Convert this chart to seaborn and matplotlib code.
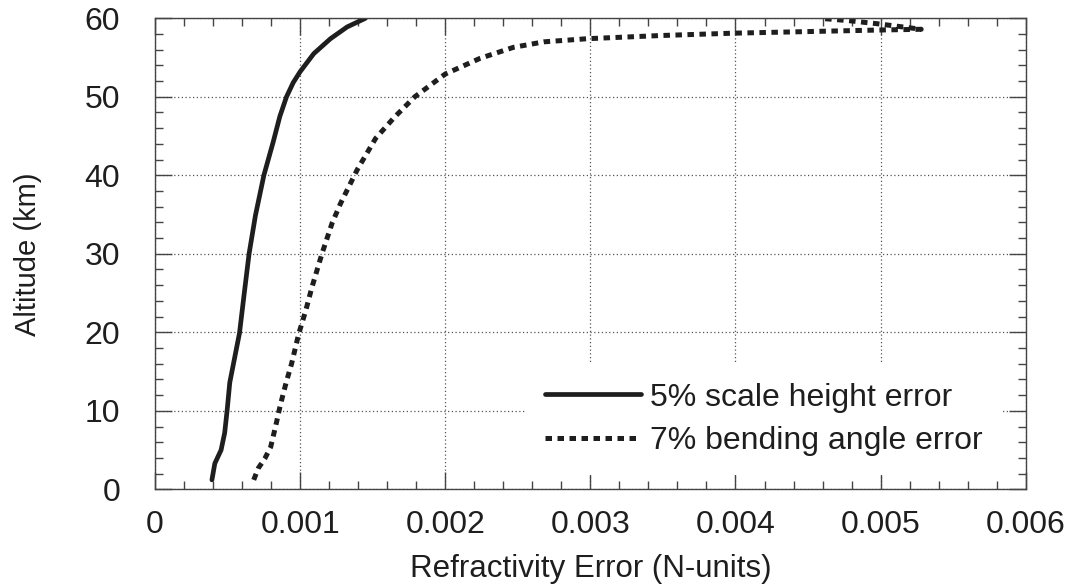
import numpy as np
import pandas as pd
import matplotlib
matplotlib.use("Agg")
import matplotlib.pyplot as plt
import seaborn as sns
from matplotlib.ticker import MultipleLocator

# Perfis (erro de refratividade x altitude)
alt_escala = [1.2, 3.3, 5.0, 7.2, 10.1, 13.6, 19.9, 25.0, 30.0, 34.9, 40.0,
              44.3, 47.5, 50.0, 51.8, 53.2, 55.5, 57.4, 58.9, 60.0]
err_escala = [0.000392, 0.000412, 0.000455, 0.000480, 0.000497, 0.000515,
              0.000582, 0.000615, 0.000648, 0.000692, 0.000750, 0.000815,
              0.000860, 0.000906, 0.000952, 0.001000, 0.001094, 0.001209,
              0.001324, 0.001450]

alt_flexao = [1.2, 2.7, 3.9, 5.4, 8.2, 10.7, 13.5, 16.0, 19.8, 22.8, 25.6,
              30.0, 33.9, 36.4, 40.7, 44.7, 47.4, 50.0, 52.9, 54.9, 56.3,
              57.0, 57.4, 57.8, 58.1, 58.3, 58.5, 58.6, 59.3, 59.7, 60.0]
err_flexao = [0.000680, 0.000712, 0.000756, 0.000797, 0.000833, 0.000863,
              0.000902, 0.000941, 0.000990, 0.001039, 0.001079, 0.001150,
              0.001220, 0.001278, 0.001393, 0.001520, 0.001650, 0.001790,
              0.002000, 0.002240, 0.002470, 0.002680, 0.002980, 0.003480,
              0.003980, 0.004480, 0.004980, 0.005280, 0.004980, 0.004780,
              0.004580]

rotulos = ["5% scale height error", "7% bending angle error"]
ticks_x = [0, 0.001, 0.002, 0.003, 0.004, 0.005, 0.006]
rotulos_x = ["0", "0.001", "0.002", "0.003", "0.004", "0.005", "0.006"]

sns.set_theme(style="ticks")
plt.rcParams["font.family"] = ["Liberation Sans", "DejaVu Sans"]
cor = "#1e1e1e"

fig, ax = plt.subplots(figsize=(10.7, 5.86), dpi=100)
fig.subplots_adjust(left=0.1449, right=0.9586, top=0.9688, bottom=0.165)

sns.lineplot(x=err_escala, y=alt_escala, sort=False, estimator=None, ax=ax,
             color=cor, lw=3.4, label=rotulos[0])
sns.lineplot(x=err_flexao, y=alt_flexao, sort=False, estimator=None, ax=ax,
             color=cor, lw=3.6, linestyle=(0, (1.3, 1.1)), label=rotulos[1])

ax.set_xlim(0, 0.006)
ax.set_ylim(0, 60)
ax.xaxis.set_minor_locator(MultipleLocator(0.0002))
ax.yaxis.set_major_locator(MultipleLocator(10))
ax.yaxis.set_minor_locator(MultipleLocator(2))
ax.set_xticks(ticks_x)
ax.set_xticklabels(rotulos_x)

ax.grid(True, which="major", linestyle=(0, (1, 2)), color="#555555", lw=0.9)
ax.tick_params(which="both", direction="in", top=True, right=True,
               colors="#444444", labelcolor=cor, labelsize=23)
ax.tick_params(which="major", length=12, width=1.0)
ax.tick_params(which="minor", length=5.5, width=1.0)
ax.tick_params(axis="y", pad=25)
ax.tick_params(axis="x", pad=15)
for s in ax.spines.values():
    s.set_color("#444444")
    s.set_linewidth(1.0)

ax.set_xlabel("Refractivity Error (N-units)", fontsize=22.5, color=cor, labelpad=10)
ax.set_ylabel("Altitude (km)", fontsize=21, color=cor, labelpad=31)

leg = ax.legend(loc="lower right", bbox_to_anchor=(0.973, 0.03), frameon=True,
                fontsize=23, handlelength=3.0, handletextpad=0.3,
                labelspacing=0.42, borderpad=0.6, borderaxespad=0,
                framealpha=1, fancybox=False)
leg.get_frame().set_edgecolor("white")
leg.get_frame().set_linewidth(0)
for t in leg.get_texts():
    t.set_color(cor)

fig.savefig("out.png", dpi=100)
